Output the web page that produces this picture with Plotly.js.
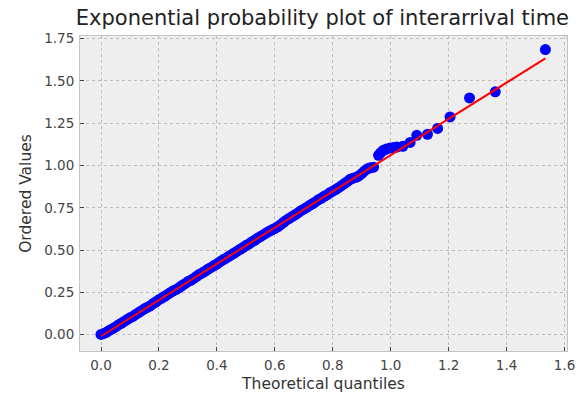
<!DOCTYPE html>
<html>
<head>
<meta charset="utf-8">
<script src="https://cdn.plot.ly/plotly-3.0.1.min.js"></script>
<style>html,body{margin:0;padding:0;background:#fff;}#chart{width:582px;height:394px;}</style>
</head>
<body>
<div id="chart"></div>
<script>
// Theoretical quantiles (x) and ordered values (y)
const quantiles = [
  0.00,0.01,0.02,0.03,0.04,0.05,0.06,0.07,0.08,0.09,
  0.10,0.11,0.12,0.13,0.14,0.15,0.16,0.17,0.18,0.19,
  0.20,0.21,0.22,0.23,0.24,0.25,0.26,0.27,0.28,0.29,
  0.30,0.31,0.32,0.33,0.34,0.35,0.36,0.37,0.38,0.39,
  0.40,0.41,0.42,0.43,0.44,0.45,0.46,0.47,0.48,0.49,
  0.50,0.51,0.52,0.53,0.54,0.55,0.56,0.57,0.58,0.59,
  0.60,0.61,0.62,0.63,0.64,0.65,0.66,0.67,0.68,0.69,
  0.70,0.71,0.72,0.73,0.74,0.75,0.76,0.77,0.78,0.79,
  0.80,0.81,0.82,0.83,0.84,0.85,0.86,0.87,0.88,0.89,
  0.90,0.91,0.92,0.93,
  0.941,0.958,0.965,0.975,0.985,0.998,1.010,1.021,1.042,1.067,
  1.090,1.127,1.162,1.205,1.272,1.361,1.534
];
const orderedValues = [
  0.002,0.008,0.016,0.027,0.036,0.046,0.058,0.068,0.079,0.090,
  0.100,0.108,0.120,0.131,0.142,0.153,0.162,0.171,0.184,0.195,
  0.207,0.217,0.227,0.238,0.250,0.260,0.268,0.279,0.291,0.302,
  0.314,0.322,0.333,0.345,0.357,0.366,0.376,0.388,0.398,0.409,
  0.418,0.430,0.441,0.451,0.462,0.472,0.483,0.494,0.505,0.515,
  0.527,0.536,0.548,0.558,0.569,0.580,0.590,0.601,0.611,0.620,
  0.628,0.638,0.650,0.664,0.677,0.688,0.698,0.709,0.720,0.733,
  0.742,0.752,0.764,0.774,0.785,0.797,0.806,0.818,0.826,0.839,
  0.848,0.858,0.869,0.881,0.893,0.905,0.918,0.925,0.930,0.938,
  0.952,0.968,0.980,0.986,
  0.990,1.060,1.075,1.090,1.097,1.103,1.106,1.109,1.113,1.136,
  1.178,1.184,1.219,1.287,1.399,1.435,1.685
];
// Least-squares fit line endpoints
const fitX = [0.0, 1.534];
const fitY = [-0.009, 1.633];

const xTicks = [0.0,0.2,0.4,0.6,0.8,1.0,1.2,1.4,1.6];
const xTickText = ["0.0","0.2","0.4","0.6","0.8","1.0","1.2","1.4","1.6"];
const yTicks = [0.00,0.25,0.50,0.75,1.00,1.25,1.50,1.75];
const yTickText = ["0.00","0.25","0.50","0.75","1.00","1.25","1.50","1.75"];

const font = "DejaVu Sans, sans-serif";
const traces = [
  {x: quantiles, y: orderedValues, type: "scatter", mode: "markers",
   marker: {color: "#0000ff", size: 11, line: {width: 0}}, hoverinfo: "none"},
  {x: fitX, y: fitY, type: "scatter", mode: "lines",
   line: {color: "#ff0000", width: 2}, hoverinfo: "none"}
];
const axisCommon = {
  showgrid: true, gridcolor: "#bdbdbd", griddash: "dot", gridwidth: 1,
  zeroline: false, showline: true, linecolor: "#c4c4c4", linewidth: 1, mirror: true,
  ticks: "inside", ticklen: 4, tickwidth: 1, tickcolor: "#444",
  tickfont: {family: font, size: 13.5, color: "#444"}, tickmode: "array"
};
const layout = {
  width: 582, height: 394,
  margin: {l: 80, r: 15, t: 36, b: 43},
  paper_bgcolor: "#ffffff", plot_bgcolor: "#eeeeee",
  showlegend: false,
  title: {text: "Exponential probability plot of interarrival time",
          font: {family: font, size: 21, color: "#222"}, x: 0.554, xanchor: "center", y: 0.955, yanchor: "middle"},
  xaxis: Object.assign({}, axisCommon, {
    range: [-0.0725, 1.6086], tickvals: xTicks, ticktext: xTickText, ticklabelstandoff: 2,
    title: {text: "Theoretical quantiles", font: {family: font, size: 15.5, color: "#333"}, standoff: 5}
  }),
  yaxis: Object.assign({}, axisCommon, {
    range: [-0.096, 1.765], tickvals: yTicks, ticktext: yTickText, ticklabelstandoff: 2,
    title: {text: "Ordered Values", font: {family: font, size: 15.5, color: "#333"}, standoff: 8}
  })
};
Plotly.newPlot("chart", traces, layout, {staticPlot: true, displayModeBar: false});
</script>
</body>
</html>
